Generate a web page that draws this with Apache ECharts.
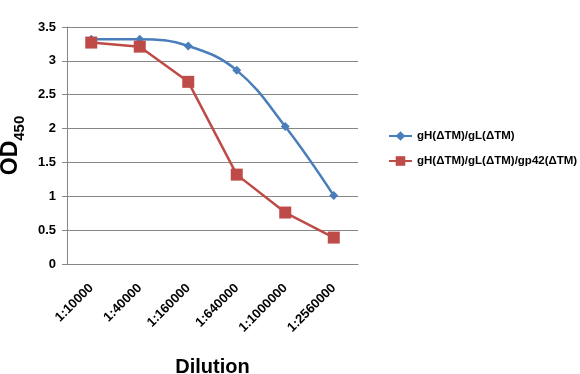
<!DOCTYPE html>
<html><head><meta charset="utf-8">
<script src="https://cdn.jsdelivr.net/npm/echarts@6/dist/echarts.min.js"></script>
<style>html,body{margin:0;padding:0;background:#fff}#c{width:580px;height:374px}</style>
</head><body><div id="c"></div>
<script>
const categories = ['1:10000','1:40000','1:160000','1:640000','1:1000000','1:2560000'];
const seriesA = [3.32, 3.32, 3.22, 2.86, 2.03, 1.01];
const seriesB = [3.27, 3.21, 2.69, 1.32, 0.76, 0.39];
const nameA = 'gH(ΔTM)/gL(ΔTM)';
const nameB = 'gH(ΔTM)/gL(ΔTM)/gp42(ΔTM)';
const yTicks = [0, 0.5, 1, 1.5, 2, 2.5, 3, 3.5];

const font = 'Liberation Sans, Arial, sans-serif';
const chart = echarts.init(document.getElementById('c'), null, {renderer:'canvas'});
chart.setOption({
  animation: false,
  grid: {left: 67, right: 222, top: 27, bottom: 110, containLabel: false, outerBoundsMode: 'none'},
  legend: {
    orient: 'vertical', left: 383, top: 125, itemGap: 13,
    itemWidth: 23, itemHeight: 12,
    textStyle: {fontFamily: font, fontWeight: 'bold', fontSize: 11.5, color: '#000'},
    data: [nameA, nameB]
  },
  xAxis: {
    type: 'category', data: categories, boundaryGap: true,
    axisLine: {lineStyle: {color: '#868686'}},
    axisTick: {show: false},
    axisLabel: {rotate: 45, fontFamily: font, fontWeight: 'bold', fontSize: 13, color: '#000', margin: 22},
    name: 'Dilution', nameLocation: 'middle', nameGap: 93,
    nameTextStyle: {fontFamily: font, fontWeight: 'bold', fontSize: 20, color: '#000'}
  },
  yAxis: {
    type: 'value', min: yTicks[0], max: yTicks[yTicks.length-1], interval: 0.5,
    axisLine: {show: true, lineStyle: {color: '#868686'}},
    axisTick: {show: true, length: 5, lineStyle: {color: '#868686'}},
    splitLine: {lineStyle: {color: '#868686'}},
    axisLabel: {fontFamily: font, fontWeight: 'bold', fontSize: 13, color: '#000', margin: 11,
      formatter: v => String(v)},
    name: '{a|OD}{b|450}', nameLocation: 'middle', nameGap: 42, nameRotate: 90,
    nameTextStyle: {
      rich: {
        a: {fontFamily: font, fontWeight: 'bold', fontSize: 23, color: '#000', verticalAlign: 'bottom'},
        b: {fontFamily: font, fontWeight: 'bold', fontSize: 15, color: '#000', verticalAlign: 'bottom', padding: [0,0,-5,0]}
      }
    }
  },
  series: [
    {name: nameA, type: 'line', data: seriesA, smooth: 0.4, symbol: 'diamond', symbolSize: 9,
     lineStyle: {color: '#4a7ebb', width: 2.5}, itemStyle: {color: '#4a7ebb'}},
    {name: nameB, type: 'line', data: seriesB, smooth: false, symbol: 'rect', symbolSize: 12,
     lineStyle: {color: '#be4b48', width: 2.5}, itemStyle: {color: '#be4b48'}}
  ]
});
</script></body></html>
